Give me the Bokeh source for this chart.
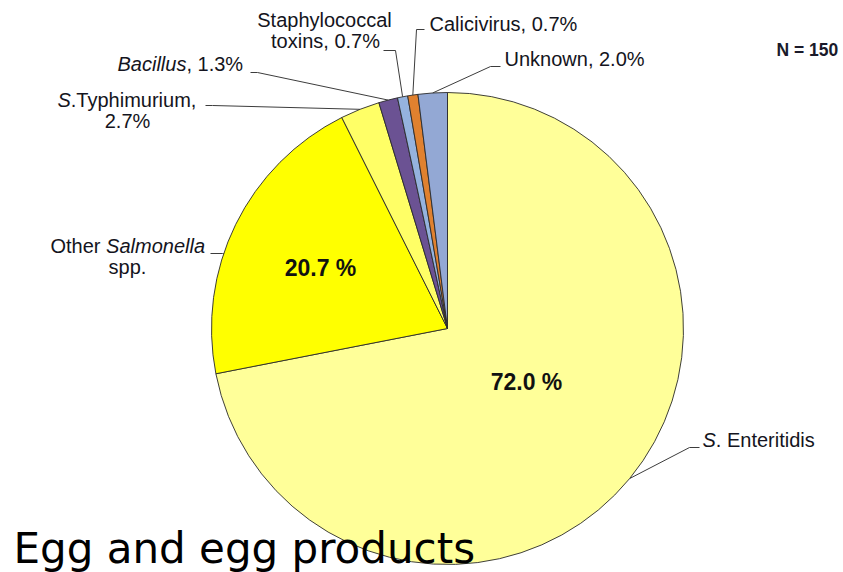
import math

from bokeh.core.properties import value
from bokeh.embed import file_html
from bokeh.models import Range1d
from bokeh.plotting import figure
from bokeh.resources import INLINE

# Outbreaks linked to eggs and egg products, by causative agent (N = 150)
agents = ["S. Enteritidis", "Other Salmonella spp.", "S. Typhimurium", "Bacillus",
          "Staphylococcal toxins", "Calicivirus", "Unknown"]
percent = [72.0, 20.7, 2.7, 1.3, 0.7, 0.7, 2.0]
colors = ["#FFFF99", "#FFFF00", "#FFFF66", "#6B5293", "#95B3DE", "#E0812F", "#93A8D4"]
n_total = 150
title = "Egg and egg products"

W, H = 843, 572
CX, CY, R = 447, 328, 236  # pie centre / radius in page pixels (y measured from top)


def Y(y):
    return H - y


p = figure(width=W, height=H, x_range=Range1d(0, W), y_range=Range1d(0, H),
           output_backend="svg", toolbar_location=None,
           x_axis_location=None, y_axis_location=None, min_border=0)
p.grid.visible = False
p.outline_line_color = None
p.background_fill_color = "white"
p.border_fill_color = "white"

# slice angles, clockwise from 12 o'clock
total = sum(percent)
cum = [0.0]
for v in percent:
    cum.append(cum[-1] + v / total * 360.0)
start_cw = cum[:-1]
end_cw = cum[1:]
mid_cw = [(a + b) / 2 for a, b in zip(start_cw, end_cw)]

p.wedge(x=[CX] * len(percent), y=[Y(CY)] * len(percent), radius=R,
        start_angle=[math.radians(90 - a) for a in start_cw],
        end_angle=[math.radians(90 - b) for b in end_cw],
        direction="clock", fill_color=colors, line_color="#2a2a2a", line_width=0.9)


def rim(theta_cw):
    t = math.radians(theta_cw)
    return CX + R * math.sin(t), CY - R * math.cos(t)


def leader(points):
    p.line(x=[q[0] for q in points], y=[Y(q[1]) for q in points],
           line_color="#3c3c3c", line_width=1)


def label(x, y, txt, size=20, style="normal", align="left",
          font="Liberation Sans", color="#141420", lift=0.38):
    # y is the intended baseline; the renderer sits text slightly low, so lift it
    p.text(x=[x], y=[Y(y - lift * size)], text=[txt], text_font=value(font),
           text_font_size=f"{size}px", text_font_style=style, text_align=align,
           text_baseline="alphabetic", text_color=color)


# leader lines: label tick -> middle of the slice on the rim
leader([(699, 447), (689, 447), rim(mid_cw[0])])
ys = 253
leader([(210, ys), (222, ys), (CX - math.sqrt(R ** 2 - (CY - ys) ** 2), ys)])
leader([(205, 105), (212, 105), rim(mid_cw[2])])
leader([(250, 72), (257, 72), rim(mid_cw[3])])
leader([(383, 50), (395, 50), rim(mid_cw[4])])
leader([(424, 29), (416, 29), rim(mid_cw[5])])
leader([(500, 66), (490, 66), rim(mid_cw[6])])

# slice labels
label(526, 390, f"{percent[0]:.1f} %", size=23, style="bold", align="center", color="#111111", lift=0.35)
label(320, 276, f"{percent[1]:.1f} %", size=23, style="bold", align="center", color="#111111", lift=0.35)

label(702, 447, "S", style="italic")
label(715.3, 447, ". Enteritidis")

label(50, 253, "Other ")
label(105.6, 253, "Salmonella", style="italic")
label(127, 274, "spp.", align="center")

label(57, 107, "S", style="italic")
label(70.3, 107, ".Typhimurium,")
label(127, 128, f"{percent[2]:.1f}%", align="center")

label(117, 71, "Bacillus", style="italic")
label(185.9, 71, f", {percent[3]:.1f}%")

label(324, 27, "Staphylococcal", align="center")
label(325, 48, f"toxins, {percent[4]:.1f}%", align="center")

label(429, 31, f"Calicivirus, {percent[5]:.1f}%")
label(504, 66, f"Unknown, {percent[6]:.1f}%")

label(776, 56, f"N = {n_total}", size=17.5, style="bold", color="#1a1a2a", lift=0.4)

# panel title drawn over the pie
label(13, 561, title, size=42, font="DejaVu Sans", color="#000000", lift=0.31)

open("out.html", "w").write(file_html(p, INLINE))
